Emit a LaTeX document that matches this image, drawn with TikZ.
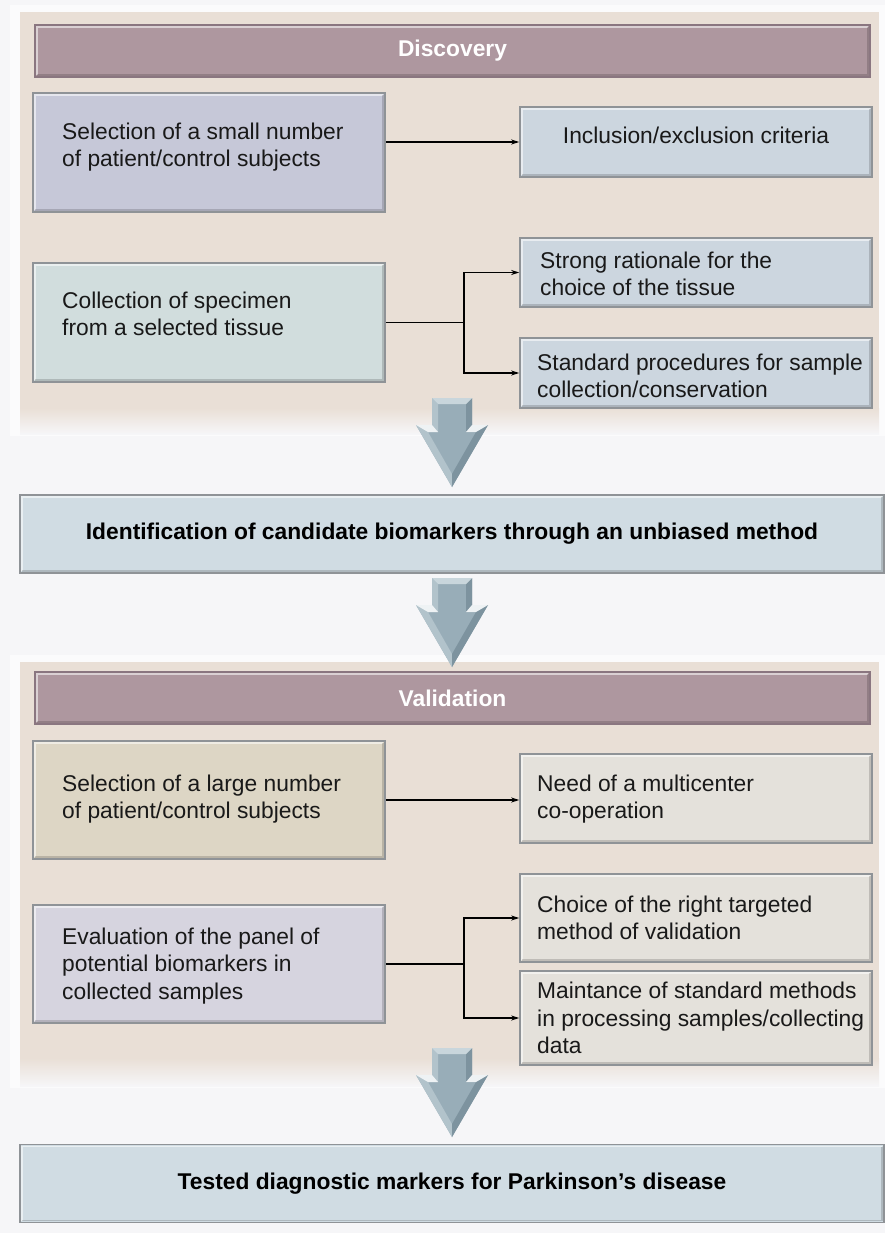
\documentclass[tikz,border=0pt]{standalone}
\usepackage{fontspec}
\setmainfont{Liberation Sans}
\usetikzlibrary{arrows.meta}

\definecolor{pagebg}{HTML}{F6F6F8}
\definecolor{panelbg}{HTML}{E9DFD6}
\definecolor{headfill}{HTML}{AE979F}
\definecolor{headedge}{HTML}{8A7680}
\definecolor{selsmall}{HTML}{C6C8D8}
\definecolor{discright}{HTML}{CCD6DF}
\definecolor{collect}{HTML}{D1DDDD}
\definecolor{stagefill}{HTML}{D0DCE3}
\definecolor{sellarge}{HTML}{DDD6C5}
\definecolor{valright}{HTML}{E4E1DB}
\definecolor{evalfill}{HTML}{D6D4DF}
\definecolor{boxedge}{HTML}{8F9397}
\definecolor{arrowface}{HTML}{98ADB8}
\definecolor{arrowtop}{HTML}{C9D6DC}
\definecolor{arrowleft}{HTML}{B2C3CB}
\definecolor{arrowright}{HTML}{7D939F}
\definecolor{arrowwing}{HTML}{EEF2F4}

% large bevelled down arrow between the stages; #1 = centre x, #2 = top y
\newcommand{\stagearrow}[2]{%
  \begin{scope}[shift={(#1,#2)}]
    \fill[arrowface] (-20,0) -- (20,0) -- (20,27) -- (36,27) -- (0,89) -- (-36,27) -- (-20,27) -- cycle;
    \fill[arrowleft] (-20,0) -- (-14,6) -- (-14,34) -- (-24,34) -- (0,76) -- (0,89) -- (-36,27) -- (-20,27) -- cycle;
    \fill[arrowright] (20,0) -- (20,27) -- (36,27) -- (0,89) -- (0,76) -- (24,34) -- (14,34) -- (14,6) -- cycle;
    \fill[arrowtop] (-20,0) -- (20,0) -- (14,6) -- (-14,6) -- cycle;
    \fill[arrowwing] (-36,27) -- (-20,27) -- (-14,34) -- (-24,34) -- cycle;
    \fill[arrowwing] (36,27) -- (20,27) -- (14,34) -- (24,34) -- cycle;
  \end{scope}}

\begin{document}
\begin{tikzpicture}[x=1pt, y=-1pt,
  box/.style={rectangle, draw=boxedge, line width=1.6pt, inner sep=0pt},
  leftbox/.style={box, minimum width=352pt, minimum height=119pt},
  rightbox/.style={box, fill=#1, minimum width=352pt},
  head/.style={box, draw=headedge, fill=headfill, minimum width=835pt, minimum height=52pt,
               text=white, font=\bfseries\fontsize{22.8}{26}\selectfont},
  stage/.style={box, fill=stagefill, minimum width=864pt, minimum height=78pt,
                font=\bfseries\fontsize{22.8}{26}\selectfont},
  txt/.style={inner sep=0pt, align=left, anchor=west, text=black!90,
              font=\fontsize{22.8}{27.5}\selectfont},
  conn/.style={line width=1.1pt, -{Stealth[length=8pt,width=5pt]}},
  link/.style={line width=1.1pt},
  hilite/.style={white, opacity=.55, line width=1.3pt},
  lowlite/.style={black, opacity=.16, line width=1.6pt},
]
\useasboundingbox (0,0) rectangle (885,1233);
\fill[pagebg] (0,0) rectangle (885,1233);

% stage panels
\fill[white!60!pagebg] (10,5) rectangle (885,436);
\fill[panelbg] (20,12) rectangle (879,408);
\shade[top color=panelbg, bottom color=pagebg] (20,408) rectangle (879,434);
\fill[white!60!pagebg] (10,655) rectangle (885,1088);
\fill[panelbg] (20,662) rectangle (879,1058);
\shade[top color=panelbg, bottom color=pagebg] (20,1058) rectangle (879,1086);

% discovery
\node[head] (hd) at (452.5,51) {Discovery};
\node[leftbox, fill=selsmall] (a1) at (209,152.5) {};
\node[rightbox=discright, minimum height=70pt] (b1) at (696,142) {};
\node[leftbox, fill=collect] (a2) at (209,322.5) {};
\node[rightbox=discright, minimum height=69pt] (b2) at (696,272.5) {};
\node[rightbox=discright, minimum height=70pt] (b3) at (696,373) {};

\node[txt] (a1t) at (62,147) {Selection of a small number\\of patient/control subjects};
\node[txt, anchor=center] (b1t) at (696,135) {Inclusion/exclusion criteria};
\node[txt] (a2t) at (62,314) {Collection of specimen\\from a selected tissue};
\node[txt] (b2t) at (540,274) {Strong rationale for the\\choice of the tissue};
\node[txt] (b3t) at (537,376) {Standard procedures for sample\\collection/conservation};

% result of discovery
\node[stage] (c) at (452,534) {Identification of candidate biomarkers through an unbiased method};

% validation
\node[head] (hv) at (452.5,698) {Validation};
\node[leftbox, fill=sellarge, minimum height=118pt] (a3) at (209,800) {};
\node[rightbox=valright, minimum height=89pt] (b4) at (696,798.5) {};
\node[leftbox, fill=evalfill, minimum height=118pt] (a4) at (209,964) {};
\node[rightbox=valright, minimum height=88pt] (b5) at (696,918) {};
\node[rightbox=valright, minimum height=94pt] (b6) at (696,1018) {};

\node[txt] (a3t) at (62,799) {Selection of a large number\\of patient/control subjects};
\node[txt] (b4t) at (537,799) {Need of a multicenter\\co-operation};
\node[txt] (a4t) at (62,966) {Evaluation of the panel of\\potential biomarkers in\\collected samples};
\node[txt] (b5t) at (537,918) {Choice of the right targeted\\method of validation};
\node[txt] (b6t) at (537,1018) {Maintance of standard methods\\in processing samples/collecting\\data};

% final result
\node[stage] (d) at (452,1183.5) {Tested diagnostic markers for Parkinson’s disease};

% bevel highlights on every box
\foreach \n in {hd,a1,b1,a2,b2,b3,c,hv,a3,b4,a4,b5,b6,d}{
  \draw[hilite] ([shift={(2.8,-2.8)}]\n.south west) |- ([shift={(-2.8,2.8)}]\n.north east);
  \draw[lowlite] ([shift={(2.8,-2.8)}]\n.south west) -| ([shift={(-2.8,2.8)}]\n.north east);
}

% connectors
\draw[conn] (a1.east |- b1.west) -- (b1.west);
\coordinate (j1) at (464,322.5);
\draw[link] (a2.east) -- (j1);
\draw[conn] (j1) |- (b2.west);
\draw[conn] (j1) |- (b3.west);

\draw[conn] (a3.east) -- (a3.east -| b4.west);
\coordinate (j2) at (464,964);
\draw[link] (a4.east) -- (j2);
\draw[conn] (j2) |- (b5.west);
\draw[conn] (j2) |- (b6.west);

% stage arrows
\stagearrow{452}{398}
\stagearrow{452}{578}
\stagearrow{452}{1048}
\end{tikzpicture}
\end{document}
